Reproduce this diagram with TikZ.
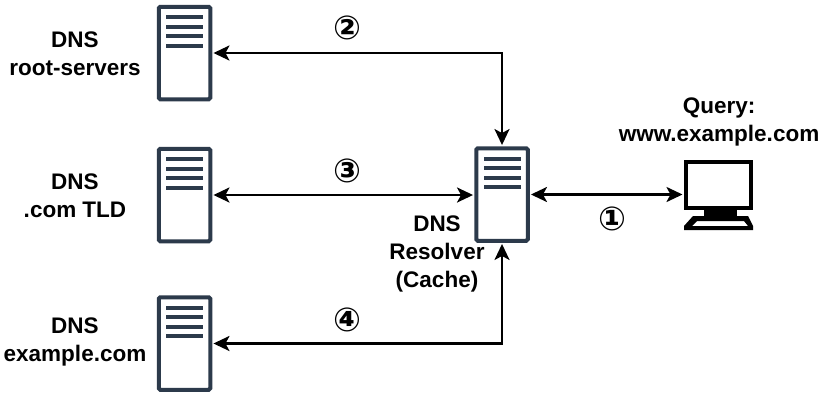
\documentclass[tikz,border=0pt]{standalone}
\usepackage{fontspec}
\setmainfont{Liberation Sans}
\newfontfamily\circfont{DejaVu Sans}
\usetikzlibrary{arrows.meta,calc}
\definecolor{srvcol}{HTML}{2C3A4B}
\tikzset{
  x=1pt,y=-1pt,
  server/.style={draw=srvcol,line width=4pt,rounded corners=1.5pt,fill=white,minimum width=51.5pt,minimum height=92.5pt,inner sep=0pt,outer sep=3.2pt},
  screen/.style={draw=black,line width=4.5pt,fill=white,minimum width=65pt,minimum height=46pt,inner sep=0pt,outer sep=3.5pt},
  lab/.style={font=\bfseries\fontsize{22.5}{28}\selectfont,align=center,inner sep=0pt,text=black},
  num/.style={font=\circfont\bfseries\fontsize{33}{33}\selectfont,inner sep=0pt,text=black},
  link/.style={draw=black,line width=2.5pt,{Stealth[length=16pt,width=15pt,inset=4pt]}-{Stealth[length=16pt,width=15pt,inset=4pt]}},
}
\begin{document}
\begin{tikzpicture}
\useasboundingbox (0,0) rectangle (826,402);
\node[server] (root) at (184.5,53) {};
\node[server] (tld) at (184.5,195) {};
\node[server] (exa) at (184.5,343.5) {};
\node[server] (res) at (502,194.5) {};
\foreach \s in {root,tld,exa,res}
  \foreach \d in {-36,-26.5,-17,-7.5}
    \fill[srvcol] ($(\s.center)+(-18.5,\d-2)$) rectangle ($(\s.center)+(18.5,\d+2)$);
\node[screen] (mon) at (718.5,185) {};
\fill[black] (704,210) -- (737,210) -- (737,217) -- (704,217) -- cycle;
\fill[black,even odd rule] (693,216) -- (748,216) -- (753,226) -- (753,230) -- (684,230) -- (684,226) -- cycle
  (697,221) -- (744,221) -- (748,226) -- (692,226) -- cycle;
\node[lab] (lroot) at (75,53.5) {DNS\\root-servers};
\node[lab] (ltld) at (75,195.5) {DNS\\.com TLD};
\node[lab] (lexa) at (75,342) {DNS\\example.com};
\node[lab] (lres) at (437,253.5) {DNS\\Resolver\\(Cache)};
\node[lab] (lmon) at (719,121.5) {Query:\\www.example.com};
\node[num] (n1) at (612,219) {①};
\node[num] (n2) at (347,28) {②};
\node[num] (n3) at (347,171) {③};
\node[num] (n4) at (347,320) {④};
\draw[link] (root.east) -| (res.north);
\draw[link] (tld.east) -- (tld.east -| res.west);
\draw[link] (exa.east) -| (res.south);
\draw[link] (res.east) -- (res.east -| mon.west);
\end{tikzpicture}
\end{document}
